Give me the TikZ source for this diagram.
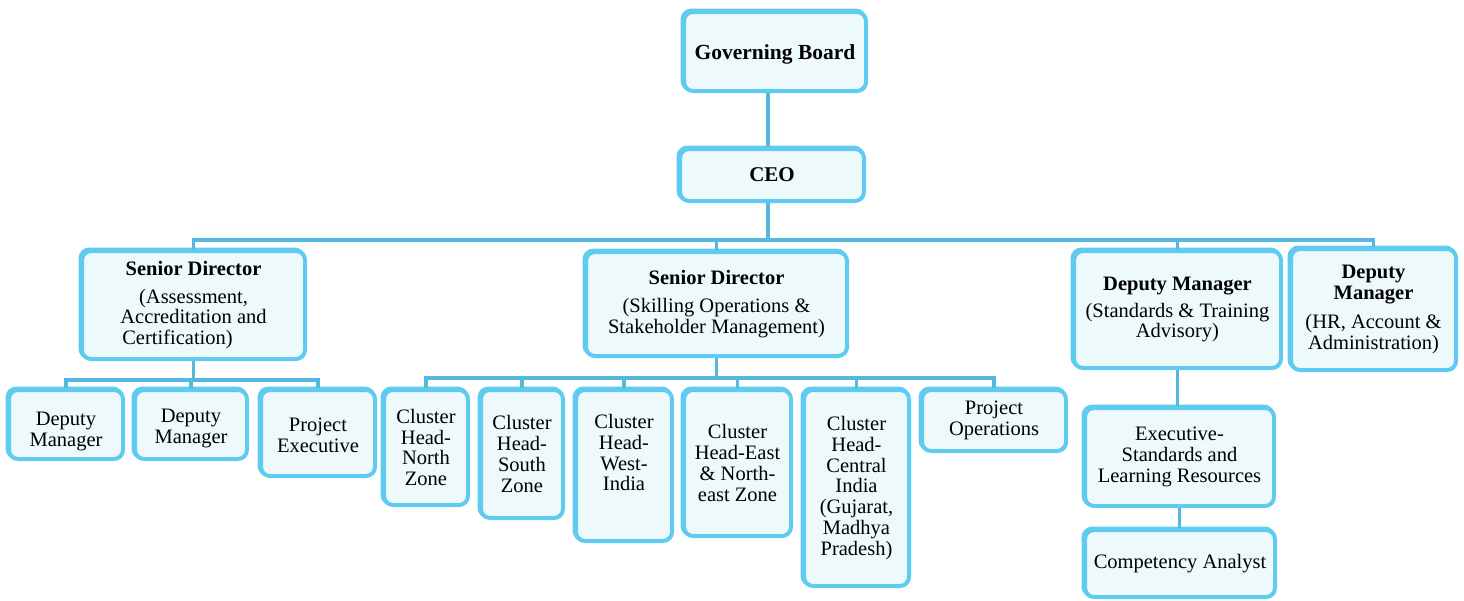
\documentclass[tikz,border=0pt]{standalone}
\usepackage{fontspec}
\setmainfont{Liberation Serif}
\definecolor{boxedge}{HTML}{5FCBF1}
\definecolor{boxfill}{HTML}{EEF9FC}
\definecolor{linkblue}{HTML}{55B8DD}
\tikzset{
  post/.style={draw=boxedge, fill=boxfill, line width=4pt, rounded corners=9pt,
    preaction={draw=boxedge, line width=4pt, transform canvas={shift={(-1.5pt,1.5pt)}}},
    align=center, inner sep=2pt,
    font=\fontsize{20.5}{20.7}\selectfont},
  link/.style={draw=linkblue, line width=3.5pt}
}
\begin{document}
\begin{tikzpicture}[x=1pt, y=-1pt]
      \useasboundingbox (0,0) rectangle (1464,600);
      % top of the chart
      \node[post, minimum width=182, minimum height=79, font=\fontsize{21.5}{22}\selectfont\bfseries] (gov) at (775,51.5) {\mbox{}\\[-1pt]Governing Board};
      \node[post, minimum width=184, minimum height=52, font=\fontsize{21}{22}\selectfont\bfseries] (ceo) at (772,175) {CEO};
      % second level
      \node[post, minimum width=223, minimum height=108] (sd1) at (193.5,305)
        {\textbf{Senior Director}\\[7pt](Assessment,\\Accreditation and\\Certification)\hspace*{32pt}};
      \node[post, minimum width=261, minimum height=104] (sd2) at (716.5,304)
        {\textbf{Senior Director}\\[7pt](Skilling Operations \&\\Stakeholder Management)};
      \node[post, minimum width=207, minimum height=117] (dmsta) at (1177.5,309.5)
        {\textbf{Deputy Manager}\\[6pt](Standards \& Training\\Advisory)};
      \node[post, minimum width=165, minimum height=121] (dmhr) at (1373.5,309.5)
        {\textbf{Deputy}\\\textbf{Manager}\\[8pt](HR, Account \&\\Administration)};
      % under sd1
      \node[post, minimum width=114, minimum height=69] (dma) at (66,424.5) {\mbox{}\\[7pt]Deputy\\Manager};
      \node[post, minimum width=112, minimum height=69] (dmb) at (191,424.5) {\mbox{}\\[1pt]Deputy\\Manager};
      \node[post, minimum width=114, minimum height=86] (pe) at (318,433) {\mbox{}\\[-3pt]Project\\Executive};
      % under sd2
      \node[post, minimum width=84, minimum height=115] (chn) at (426,447.5) {Cluster\\Head-\\North\\Zone};
      \node[post, minimum width=82, minimum height=128] (chs) at (522,454) {Cluster\\Head-\\South\\Zone};
      \node[post, minimum width=96, minimum height=151] (chw) at (624,465.5) {Cluster\\Head-\\West-\\India\\[5pt]\mbox{}};
      \node[post, minimum width=107, minimum height=146] (che) at (737.5,463) {Cluster\\Head-East\\\& North-\\east Zone};
      \node[post, minimum width=105, minimum height=196] (chc) at (856.5,488)
        {Cluster\\Head-\\Central\\India\\(Gujarat,\\Madhya\\Pradesh)};
      \node[post, minimum width=144, minimum height=61] (po) at (994,420.5) {Project\\Operations};
      % under dmsta
      \node[post, minimum width=189, minimum height=98] (exec) at (1179.5,457)
        {Executive-\\Standards and\\Learning Resources};
      \node[post, minimum width=190, minimum height=67] (comp) at (1180,563.5) {Competency Analyst};
      \coordinate (topbus) at (768,240);
      \coordinate (busa) at (189,380);
      \coordinate (busb) at (711,378);
      \begin{scope}
        \draw[link] (ceo.north -| topbus) -- (gov.south -| topbus);
        \draw[link] (ceo.south -| topbus) -- (topbus);
        \foreach \n in {sd1,sd2,dmsta,dmhr}
          \draw[link] (topbus) -| (\n.north);
        \draw[link] (sd1.south) -- (sd1.south |- busa);
        \foreach \n in {dma,dmb,pe}
          \draw[link] (busa) -| (\n.north);
        \draw[link] (sd2.south) -- (sd2.south |- busb);
        \foreach \n in {chn,chs,chw,che,chc,po}
          \draw[link] (busb) -| (\n.north);
        \draw[link] (dmsta.south) -- (dmsta.south |- exec.north);
        \draw[link] (exec.south) -- (exec.south |- comp.north);
      \end{scope}
    \end{tikzpicture}
\end{document}
